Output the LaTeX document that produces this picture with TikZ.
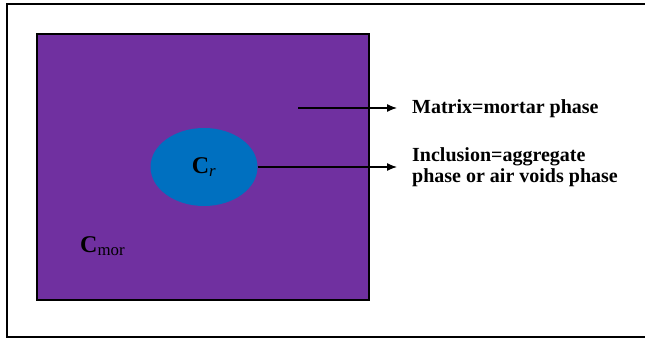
\documentclass[tikz,border=0pt]{standalone}
\usepackage{fontspec}
\setmainfont{Liberation Serif}
\usetikzlibrary{arrows.meta}
\usetikzlibrary{shapes.geometric}
\definecolor{mortar}{RGB}{112,48,160}
\definecolor{aggregate}{RGB}{0,112,192}

\begin{document}
\begin{tikzpicture}[x=1pt, y=-1pt,
	zeiger/.style={line width=1.3, -{Latex[length=10pt,width=8pt]}, shorten >=15pt},
	beschriftung/.style={anchor=west, inner sep=0, align=left, font=\bfseries\fontsize{20}{21.5}\selectfont}]
	\useasboundingbox (0,0) rectangle (645,340);
	\draw[line width=1.5] (7,4) rectangle (660,337);
	
	% matrix and inclusion
	\draw[line width=2, fill=mortar] (37,34) rectangle (369,300);
	\node[ellipse, fill=aggregate, minimum width=107, minimum height=78, inner sep=0] (inclusion) at (204,167) {\fontsize{24}{24}\selectfont\textbf{C}\textsubscript{\textit{r}}};
	\node[anchor=base west, inner sep=0, font=\fontsize{24}{24}\selectfont] (cmor) at (80,252) {\textbf{C}\textsubscript{mor}};
	
	% labels
	\node[beschriftung] (matrix) at (412,109) {Matrix=mortar phase};
	\node[beschriftung] (incl) at (412,167) {Inclusion=aggregate\\phase or air voids phase};
	\coordinate (mstart) at (298,108);
	
	\draw[zeiger] (mstart) -- (mstart -| matrix.west);
	\draw[zeiger] (inclusion.east) -- (inclusion.east -| incl.west);
\end{tikzpicture}
\end{document}
